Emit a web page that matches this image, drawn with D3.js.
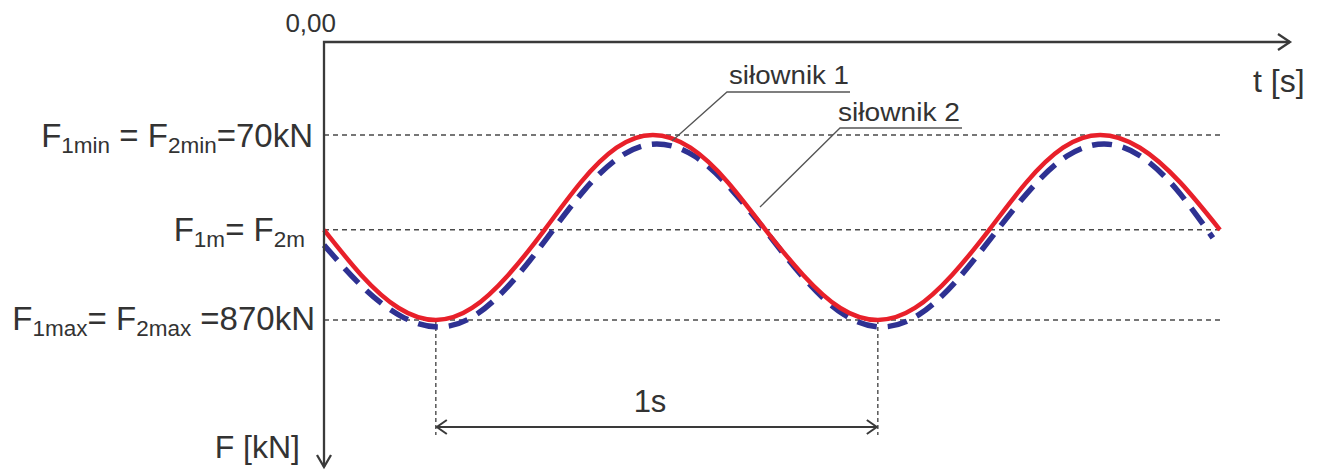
<!DOCTYPE html>
<html>
<head>
<meta charset="utf-8">
<script src="https://cdn.jsdelivr.net/npm/d3@7"></script>
<style>
  html, body { margin: 0; padding: 0; background: #fff; }
  svg { display: block; }
  text { font-family: "Liberation Sans", Arial, sans-serif; fill: #333; }
</style>
</head>
<body>
<svg id="chart" width="1325" height="473"></svg>
<script>
// ---- data ----
// siłownik 1 (red, solid): time [s], force [kN] (force axis points downward)
const t1 = [0, 0.084, 0.169, 0.253, 0.335, 0.417, 0.499, 0.581, 0.662, 0.744,
            0.829, 0.914, 0.999, 1.084, 1.168, 1.253, 1.337, 1.421, 1.505,
            1.589, 1.672, 1.756, 1.846, 1.937, 2.027];
const f1 = [480, 675, 818, 870, 818, 675, 480, 275, 125, 70,
            125, 275, 480, 675, 818, 870, 818, 675, 480,
            275, 125, 70, 125, 275, 480];
// siłownik 2 (blue, dashed)
const t2 = [0, 0.087, 0.175, 0.262, 0.344, 0.427, 0.509, 0.590, 0.672, 0.753,
            0.838, 0.922, 1.007, 1.092, 1.177, 1.262, 1.346, 1.430, 1.514,
            1.598, 1.681, 1.765, 1.847, 1.929, 2.011];
const f2 = [546, 726, 854, 900, 847, 702, 504, 306, 161, 109,
            161, 306, 504, 702, 847, 900, 847, 702, 504,
            306, 161, 109, 161, 306, 515];
// reference force levels: F_min, F_m, F_max
const refLevels = [70, 480, 870];
// period marker: two troughs one second apart
const periodMarks = [0.253, 1.253];
const seriesNames = ["siłownik 1", "siłownik 2"];

// ---- layout ----
const svg = d3.select("#chart");
const x = d3.scaleLinear().domain([0, 1]).range([324, 766]);
const y = d3.scaleLinear().domain([70, 870]).range([135, 320]);
const axisY = 42;          // time axis (top)
const axisX = x(0);        // force axis (left)
const axisRight = 1290;
const axisBottom = 467;
const refEnd = 1223;
const ink = "#3a3a3a";

// reference dashed lines
svg.append("g").selectAll("line").data(refLevels).join("line")
  .attr("x1", axisX).attr("x2", refEnd)
  .attr("y1", d => y(d)).attr("y2", d => y(d))
  .attr("stroke", "#4a4a4a").attr("stroke-width", 1.4)
  .attr("stroke-dasharray", "5,4");

// period vertical dashed lines
const dimY = 427;
svg.append("g").selectAll("line").data(periodMarks).join("line")
  .attr("x1", d => x(d)).attr("x2", d => x(d))
  .attr("y1", y(870)).attr("y2", dimY + 8)
  .attr("stroke", "#4a4a4a").attr("stroke-width", 1.4)
  .attr("stroke-dasharray", "4,3");

// dimension line with arrows
const xa = x(periodMarks[0]), xb = x(periodMarks[1]);
svg.append("line").attr("x1", xa + 1).attr("x2", xb - 1)
  .attr("y1", dimY).attr("y2", dimY)
  .attr("stroke", ink).attr("stroke-width", 2);
svg.append("path")
  .attr("d", `M${xa + 11},${dimY - 7} L${xa + 1},${dimY} L${xa + 11},${dimY + 7}`)
  .attr("fill", "none").attr("stroke", ink).attr("stroke-width", 2);
svg.append("path")
  .attr("d", `M${xb - 11},${dimY - 7} L${xb - 1},${dimY} L${xb - 11},${dimY + 7}`)
  .attr("fill", "none").attr("stroke", ink).attr("stroke-width", 2);
svg.append("text").attr("x", 650).attr("y", 412)
  .attr("text-anchor", "middle").attr("font-size", 31).text("1s");

// curves
const line = d3.line().x(d => x(d[0])).y(d => y(d[1])).curve(d3.curveNatural);
svg.append("path").datum(d3.zip(t2, f2))
  .attr("d", line).attr("fill", "none")
  .attr("stroke", "#2e3192").attr("stroke-width", 5.5)
  .attr("stroke-dasharray", "20,11");
svg.append("path").datum(d3.zip(t1, f1))
  .attr("d", line).attr("fill", "none")
  .attr("stroke", "#e8202a").attr("stroke-width", 4.5);

// axes
svg.append("path")
  .attr("d", `M${axisX},${axisBottom} L${axisX},${axisY} L${axisRight},${axisY}`)
  .attr("fill", "none").attr("stroke", ink).attr("stroke-width", 2.3);
svg.append("path")
  .attr("d", `M${axisRight - 12},${axisY - 8} L${axisRight},${axisY} L${axisRight - 12},${axisY + 8}`)
  .attr("fill", "none").attr("stroke", ink).attr("stroke-width", 2.3);
svg.append("path")
  .attr("d", `M${axisX - 7},${axisBottom - 12} L${axisX},${axisBottom} L${axisX + 7},${axisBottom - 12}`)
  .attr("fill", "none").attr("stroke", ink).attr("stroke-width", 2.3);

svg.append("text").attr("x", 336).attr("y", 32).attr("text-anchor", "end")
  .attr("font-size", 26).text("0,00");
svg.append("text").attr("x", 1253).attr("y", 92)
  .attr("font-size", 32).text("t [s]");
svg.append("text").attr("x", 300).attr("y", 458).attr("text-anchor", "end")
  .attr("font-size", 32).text("F [kN]");

// left labels with subscripts
function label(xEnd, yBase, parts) {
  const t = svg.append("text").attr("x", xEnd).attr("y", yBase)
    .attr("text-anchor", "end").attr("font-size", 33);
  parts.forEach(p => {
    const s = t.append("tspan").text(p[0]);
    if (p[1]) s.attr("font-size", 22.5).attr("baseline-shift", "-6");
  });
}
label(313, 147, [["F"], ["1min", 1], [" = F"], ["2min", 1], ["=70kN"]]);
label(305, 241, [["F"], ["1m", 1], ["= F"], ["2m", 1]]);
label(315, 330, [["F"], ["1max", 1], ["= F"], ["2max", 1], [" =870kN"]]);

// series callouts
const callouts = [
  {name: seriesNames[0], tx: 729, ty: 84, ux1: 727, ux2: 850, uy: 92, px: 672, py: 141, w: 120},
  {name: seriesNames[1], tx: 838, ty: 121, ux1: 840, ux2: 962, uy: 128, px: 760, py: 207, w: 122}
];
callouts.forEach(c => {
  svg.append("path")
    .attr("d", `M${c.px},${c.py} L${c.ux1},${c.uy} L${c.ux2},${c.uy}`)
    .attr("fill", "none").attr("stroke", "#555").attr("stroke-width", 1.3);
  svg.append("text").attr("x", c.tx).attr("y", c.ty)
    .attr("font-size", 25).attr("textLength", c.w)
    .attr("lengthAdjust", "spacingAndGlyphs").text(c.name);
});
</script>
</body>
</html>
